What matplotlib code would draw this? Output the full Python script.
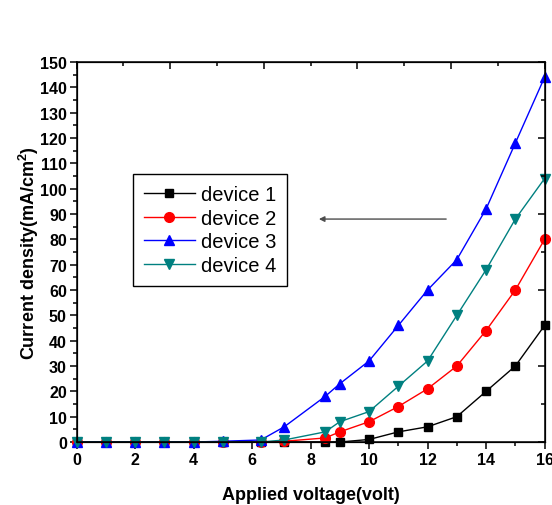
import matplotlib
matplotlib.use("Agg")
import matplotlib.pyplot as plt

plt.rcParams["font.family"] = ["Liberation Sans", "DejaVu Sans"]
plt.rcParams["mathtext.fontset"] = "custom"
plt.rcParams["mathtext.rm"] = "Liberation Sans"
plt.rcParams["mathtext.bf"] = "Liberation Sans:bold"

# applied voltage (volt)
voltage = [0, 1, 2, 3, 4, 5, 6.3, 7.1, 8.5, 9, 10, 11, 12, 13, 14, 15, 16]

# current density (mA/cm2)
device1 = [0, 0, 0, 0, 0, 0, 0, 0, 0, 0, 1, 4, 6, 10, 20, 30, 46]
device2 = [0, 0, 0, 0, 0, 0, 0, 0.3, 1.6, 4, 8, 14, 21, 30, 44, 60, 80]
device3 = [0, 0, 0, 0, 0, 0.3, 0.8, 6, 18, 23, 32, 46, 60, 72, 92, 118, 144]
device4 = [0, 0, 0, 0, 0, 0, 0, 0.8, 4, 8, 12, 22, 32, 50, 68, 88, 104]

labels = ["device 1", "device 2", "device 3", "device 4"]
colors = ["black", "red", "blue", "#008080"]
markers = ["s", "o", "^", "v"]
sizes = [6, 7, 7.5, 7.5]


def main():

    fig = plt.figure(figsize=(5.52, 5.06), dpi=100)
    ax = fig.add_axes([0.1386, 0.1245, 0.848, 0.751])

    series = [device1, device2, device3, device4]
    for vals, lab, col, mk, ms in zip(series, labels, colors, markers, sizes):
        ax.plot(voltage, vals, color=col, marker=mk, markersize=ms,
                linewidth=1, label=lab, clip_on=False)

    ax.set_xlim(0, 16)
    ax.set_ylim(0, 150)
    ax.set_xticks(range(0, 17, 2))
    ax.set_xticks(range(1, 16, 2), minor=True)
    ax.set_yticks(range(0, 151, 10))
    ax.set_yticks(range(5, 150, 10), minor=True)

    for lab in ax.get_xticklabels() + ax.get_yticklabels():
        lab.set_fontweight("bold")
    ax.tick_params(which="both", direction="out", width=1.1,
                   labelsize=11.5, pad=2)
    ax.tick_params(which="major", length=5)
    ax.tick_params(which="minor", length=3)

    for sp in ax.spines.values():
        sp.set_linewidth(1.1)

    ax.set_xlabel("Applied voltage(volt)", fontsize=13,
                  fontweight="bold", labelpad=14)
    ax.set_ylabel("Current density(mA/cm$^{\\mathbf{2}}$)", fontsize=13,
                  fontweight="bold", labelpad=-1)

    # top / right axes with their own tick divisions
    axt = ax.twiny()
    axt.set_xlim(0, 10)
    axt.set_xticks(range(0, 11, 2))
    axt.set_xticks(range(1, 10, 2), minor=True)
    axt.tick_params(which="both", direction="in", labeltop=False, width=1.1)
    axt.tick_params(which="major", length=5)
    axt.tick_params(which="minor", length=3)

    axr = ax.twinx()
    axr.set_ylim(0, 10)
    axr.set_yticks(range(0, 11, 2))
    axr.set_yticks(range(1, 10, 2), minor=True)
    axr.tick_params(which="both", direction="in", labelright=False, width=1.1)
    axr.tick_params(which="major", length=5)
    axr.tick_params(which="minor", length=3)

    leg = ax.legend(loc="upper left", bbox_to_anchor=(0.121, 0.705),
                    fontsize=14.5, handlelength=2.5, labelspacing=0.23,
                    borderpad=0.55, handletextpad=0.3, fancybox=False,
                    framealpha=1, edgecolor="black", borderaxespad=0)
    leg.get_frame().set_linewidth(1.0)

    ax.annotate("", xy=(8.19, 88), xytext=(12.73, 88),
                arrowprops=dict(arrowstyle="-|>", color="0.3", lw=1,
                                mutation_scale=8))

    fig.savefig("out.png", dpi=100)
    plt.close()


if __name__ == "__main__":
    main()
